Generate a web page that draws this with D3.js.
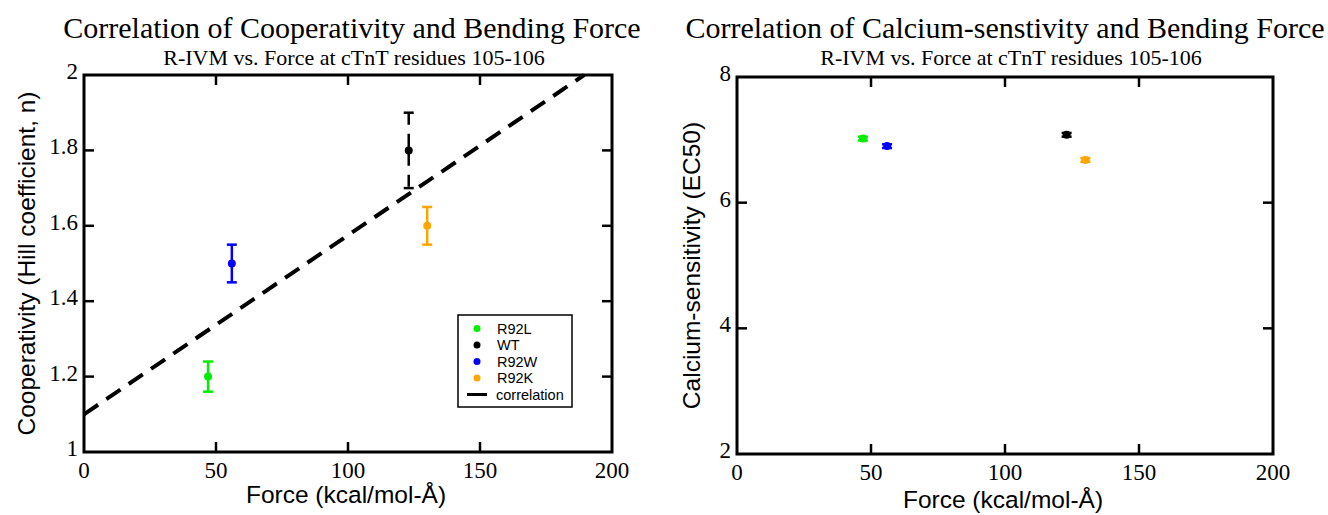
<!DOCTYPE html>
<html>
<head>
<meta charset="utf-8">
<script src="https://cdn.jsdelivr.net/npm/d3@7"></script>
<style>
  body { margin: 0; background: #fff; }
  svg { display: block; }
</style>
</head>
<body>
<div id="chart"></div>
<script>
// mutants and their colours
const mutants = ["R92L", "WT", "R92W", "R92K"];
const colors = ["#00ee00", "#000000", "#0000ff", "#ffa500"];
// bending force (kcal/mol-Å)
const force = [47, 123, 56, 130];
// cooperativity (Hill coefficient) and its error
const hill = [1.2, 1.8, 1.5, 1.6];
const hillErr = [0.04, 0.1, 0.05, 0.05];
// calcium sensitivity (EC50) and its error
const ec50 = [7.02, 7.08, 6.9, 6.68];
const ec50Err = [0.03, 0.03, 0.03, 0.03];
// correlation line: intercept, slope
const corr = [1.1, 0.00475];

const xTicks = [0, 50, 100, 150, 200];
const hillTicks = [1, 1.2, 1.4, 1.6, 1.8, 2];
const ecTicks = [2, 4, 6, 8];

const width = 1328, height = 515;
const svg = d3.select("#chart").append("svg")
  .attr("width", width).attr("height", height);

const serif = "'Liberation Serif', 'DejaVu Serif', serif";
const sans = "'Liberation Sans', Arial, sans-serif";

function panel(opts) {
  const { x, y, yTicks, yFmt, title, sub, ylabel, ylabelX, xlabelY } = opts;
  const [x0, x1] = x.range();
  const [y0, y1] = y.range();
  const g = svg.append("g");

  // inward ticks on all four sides
  const tl = 10;
  xTicks.slice(1, -1).forEach(t => {
    g.append("line").attr("x1", x(t)).attr("x2", x(t)).attr("y1", y0).attr("y2", y0 - tl)
      .attr("stroke", "#000").attr("stroke-width", 2.5);
    g.append("line").attr("x1", x(t)).attr("x2", x(t)).attr("y1", y1).attr("y2", y1 + tl)
      .attr("stroke", "#000").attr("stroke-width", 2.5);
  });
  yTicks.slice(1, -1).forEach(t => {
    g.append("line").attr("x1", x0).attr("x2", x0 + tl).attr("y1", y(t)).attr("y2", y(t))
      .attr("stroke", "#000").attr("stroke-width", 2.5);
    g.append("line").attr("x1", x1).attr("x2", x1 - tl).attr("y1", y(t)).attr("y2", y(t))
      .attr("stroke", "#000").attr("stroke-width", 2.5);
  });

  // tick labels
  g.selectAll(".xt").data(xTicks).enter().append("text")
    .attr("x", d => x(d)).attr("y", y0 + 26)
    .attr("text-anchor", "middle")
    .style("font-family", serif).style("font-size", "23px")
    .text(d => d);
  g.selectAll(".yt").data(yTicks).enter().append("text")
    .attr("x", x0 - 6).attr("y", d => y(d) + 4)
    .attr("text-anchor", "end")
    .style("font-family", serif).style("font-size", "23px")
    .text(yFmt);

  // titles
  const cx = (x0 + x1) / 2;
  svg.append("text").attr("x", opts.titleX).attr("y", 38)
    .attr("text-anchor", "middle")
    .style("font-family", serif).style("font-size", "30px")
    .text(title);
  svg.append("text").attr("x", cx + 6).attr("y", 65)
    .attr("text-anchor", "middle")
    .style("font-family", serif).style("font-size", "22px")
    .text(sub);

  // axis labels
  svg.append("text").attr("x", cx - 2).attr("y", xlabelY)
    .attr("text-anchor", "middle")
    .style("font-family", sans).style("font-size", "24.5px")
    .text("Force (kcal/mol-Å)");
  svg.append("text")
    .attr("transform", `translate(${ylabelX},${(y0 + y1) / 2}) rotate(-90)`)
    .attr("text-anchor", "middle")
    .style("font-family", sans).style("font-size", "24.5px")
    .text(ylabel);

  return g;
}

function drawPoints(g, x, y, vals, errs, cap, r, dashed) {
  mutants.forEach((m, i) => {
    const px = x(force[i]);
    const top = y(vals[i] + errs[i]), bot = y(vals[i] - errs[i]);
    const bar = g.append("line").attr("x1", px).attr("x2", px)
      .attr("y1", top).attr("y2", bot)
      .attr("stroke", colors[i]).attr("stroke-width", 2.5);
    if (dashed && m === "WT") bar.attr("stroke-dasharray", "12,9,32,9");
    [top, bot].forEach(yy => g.append("line")
      .attr("x1", px - cap).attr("x2", px + cap).attr("y1", yy).attr("y2", yy)
      .attr("stroke", colors[i]).attr("stroke-width", 2.5));
    g.append("circle").attr("cx", px).attr("cy", y(vals[i])).attr("r", r)
      .attr("fill", colors[i]);
  });
}

// ---- left panel: cooperativity ----
const xL = d3.scaleLinear().domain([0, 200]).range([84, 612]);
const yL = d3.scaleLinear().domain([1, 2]).range([452, 75]);
const gL = panel({
  x: xL, y: yL, yTicks: hillTicks, yFmt: d => d3.format("")(d),
  title: "Correlation of Cooperativity and Bending Force",
  titleX: 352,
  sub: "R-IVM vs. Force at cTnT residues 105-106",
  ylabel: "Cooperativity (Hill coefficient, n)", ylabelX: 35, xlabelY: 503
});

// correlation line, clipped to the frame
const xEnd = (2 - corr[0]) / corr[1];
gL.append("line")
  .attr("x1", xL(0)).attr("y1", yL(corr[0]))
  .attr("x2", xL(xEnd)).attr("y2", yL(2))
  .attr("stroke", "#000").attr("stroke-width", 4)
  .attr("stroke-dasharray", "17,10");

drawPoints(gL, xL, yL, hill, hillErr, 5, 4, true);

gL.append("rect").attr("x", 84).attr("y", 75).attr("width", 528).attr("height", 377)
  .attr("fill", "none").attr("stroke", "#000").attr("stroke-width", 3);

// legend
const lg = gL.append("g").attr("transform", "translate(458,315)");
lg.append("rect").attr("width", 114).attr("height", 92)
  .attr("fill", "#fff").attr("stroke", "#000").attr("stroke-width", 1.5);
mutants.forEach((m, i) => {
  const ly = 13.5 + i * 16.5;
  lg.append("circle").attr("cx", 19).attr("cy", ly).attr("r", 3.5).attr("fill", colors[i]);
  lg.append("text").attr("x", 39).attr("y", ly + 5)
    .style("font-family", sans).style("font-size", "14.5px").text(m);
});
lg.append("line").attr("x1", 9).attr("x2", 29).attr("y1", 79.5).attr("y2", 79.5)
  .attr("stroke", "#000").attr("stroke-width", 3);
lg.append("text").attr("x", 38).attr("y", 84.5)
  .style("font-family", sans).style("font-size", "14.5px").text("correlation");

// ---- right panel: calcium sensitivity ----
const xR = d3.scaleLinear().domain([0, 200]).range([737, 1273]);
const yR = d3.scaleLinear().domain([2, 8]).range([454, 77]);
const gR = panel({
  x: xR, y: yR, yTicks: ecTicks, yFmt: d => d,
  title: "Correlation of Calcium-senstivity and Bending Force",
  titleX: 1005,
  sub: "R-IVM vs. Force at cTnT residues 105-106",
  ylabel: "Calcium-sensitivity (EC50)", ylabelX: 700, xlabelY: 508
});

drawPoints(gR, xR, yR, ec50, ec50Err, 5, 4, false);

gR.append("rect").attr("x", 737).attr("y", 77).attr("width", 536).attr("height", 377)
  .attr("fill", "none").attr("stroke", "#000").attr("stroke-width", 3);
</script>
</body>
</html>
